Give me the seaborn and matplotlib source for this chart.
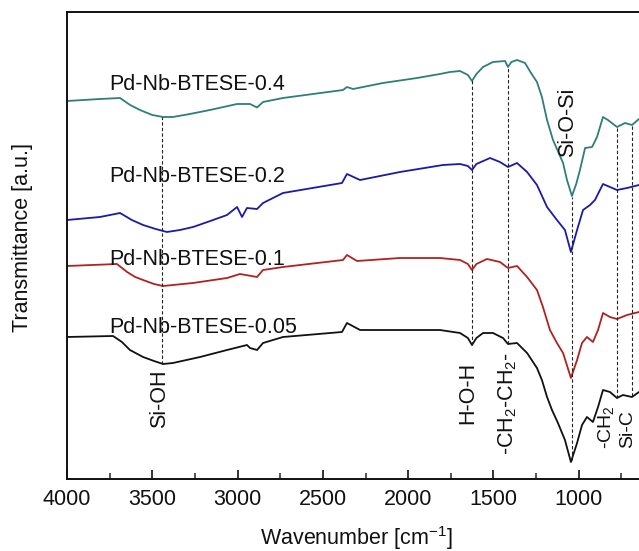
import matplotlib
matplotlib.use("Agg")
import matplotlib.pyplot as plt
import numpy as np
import pandas as pd
import seaborn as sns
from matplotlib.ticker import MultipleLocator

# ---------------- data ----------------
wn_04 = [4000, 3807, 3689, 3630, 3572, 3500, 3437, 3379, 3280, 3162, 3003, 2927, 2886, 2851, 2734, 2382, 2359, 2323,
         2148, 1948, 1814, 1755, 1696, 1650, 1626, 1600, 1561, 1503, 1432, 1415, 1395, 1362, 1315, 1280, 1245, 1216, 1186,
         1151, 1092, 1069, 1040, 1015, 993, 963, 922, 893, 858, 829, 776, 729, 688, 647]
t_04 = [378, 380, 381, 374, 369, 364, 362, 362, 365, 369, 375, 375, 371.5, 377, 381, 389, 392, 390,
        396, 401, 405, 407, 408, 404, 398, 405, 412, 417, 418, 412, 417, 419, 416, 406, 397, 382, 359,
        339, 316, 299, 283, 295, 309, 331, 332, 342, 362, 359, 352, 356, 354, 360]

wn_02 = [4000, 3807, 3689, 3620, 3554, 3480, 3414, 3338, 3261, 3160, 3062, 3003, 2974, 2945, 2886, 2851, 2734, 2388, 2359,
         2282, 2048, 1796, 1696, 1650, 1626, 1600, 1520, 1462, 1415, 1362, 1303, 1245, 1186, 1128, 1081, 1046, 1010,
         975, 934, 905, 858, 817, 776, 717, 647]
t_02 = [259, 262, 266, 259, 254, 250, 247, 249, 252, 258, 264, 272, 262, 271, 270, 276, 286, 296, 305,
        299, 307, 314, 315, 313, 309, 315, 321, 317, 312, 316, 307, 294, 272, 259, 249, 227, 249,
        269, 274, 279, 295, 292, 289, 291, 294]

wn_01 = [4000, 3707, 3648, 3600, 3554, 3490, 3437, 3261, 3062, 2986, 2886, 2851, 2734, 2382, 2359, 2300, 2048, 1814,
         1696, 1650, 1626, 1600, 1538, 1462, 1415, 1362, 1303, 1245, 1210, 1169, 1128, 1092, 1046, 1010, 981, 952,
         917, 887, 858, 817, 776, 717, 647]
t_01 = [213, 215, 207, 202, 199, 195, 193, 196, 201, 205, 202, 209, 212, 219, 224, 218, 221, 221,
        219, 215, 209, 215, 220, 217, 211, 213, 202, 189, 172, 149, 136, 126, 101, 119, 136, 142,
        137, 149, 166, 162, 160, 164, 167]

wn_005 = [4000, 3730, 3678, 3631, 3554, 3490, 3437, 3379, 3220, 3062, 2945, 2927, 2886, 2851, 2734, 2388, 2359,
          2282, 2048, 1814, 1696, 1650, 1626, 1600, 1561, 1503, 1444, 1415, 1362, 1303, 1245, 1216, 1186, 1157, 1122,
          1081, 1046, 1010, 981, 952, 917, 887, 858, 817, 776, 741, 688, 647]
t_005 = [142, 143, 137, 129, 122, 118, 115, 116, 122, 129, 134, 131, 129, 136, 142, 147, 156,
         149, 149, 149, 146, 141, 134, 141, 146, 146, 141, 135, 136, 126, 111, 99, 82, 69, 56,
         39, 17, 36, 54, 62, 57, 72, 89, 87, 81, 84, 82, 87]

samples = ["Pd-Nb-BTESE-0.4", "Pd-Nb-BTESE-0.2", "Pd-Nb-BTESE-0.1", "Pd-Nb-BTESE-0.05"]
colors = ["#2f7e7b", "#1a1aa8", "#b02222", "#111111"]
label_y = [389, 297, 214, 146]

# assignment lines
peak_wn = [3443, 1626, 1415, 1040, 776, 688]
peak_top = [362, 399, 412, 282, 352, 354]
peak_bottom = [115, 134, 135, 19, 81, 83]
peak_names = ["Si-OH", "H-O-H", "-CH$_2$-CH$_2$-", "Si-O-Si", "-CH$_2$", "Si-C"]
peak_label_x = [3455, 1649, 1415, 1063, 842, 711]
peak_label_y = [109, 117, 127, 322, 74, 69]
peak_label_va = ["top", "top", "top", "bottom", "top", "top"]
peak_label_fs = [15.5, 15.5, 15.5, 15.5, 14, 14]

xticks = [4000, 3500, 3000, 2500, 2000, 1500, 1000]

# ---------------- build table ----------------
frames = []
for name, w, t in zip(samples, [wn_04, wn_02, wn_01, wn_005], [t_04, t_02, t_01, t_005]):
    frames.append(pd.DataFrame({"wn": w, "T": t, "sample": name}))
df = pd.concat(frames, ignore_index=True)

# ---------------- style ----------------
sns.set_theme(style="ticks")
plt.rcParams["font.family"] = ["Liberation Sans", "DejaVu Sans"]
plt.rcParams["mathtext.fontset"] = "custom"
plt.rcParams["mathtext.rm"] = "Liberation Sans"
plt.rcParams["mathtext.it"] = "Liberation Sans:italic"
plt.rcParams["mathtext.bf"] = "Liberation Sans:bold"
plt.rcParams["mathtext.default"] = "regular"

W, H = 639, 551
fig = plt.figure(figsize=(W / 100, H / 100), dpi=100)
ax = fig.add_axes([67 / W, 1 - 479 / H, 580 / W, 467 / H])

sns.lineplot(data=df, x="wn", y="T", hue="sample", palette=dict(zip(samples, colors)),
             estimator=None, sort=True, linewidth=1.3, legend=False, ax=ax)

ax.vlines(peak_wn, peak_bottom, peak_top, colors="#222222", linewidth=0.8,
          linestyles=(0, (3, 2)))

fs = 15.5
for name, y, c in zip(samples, label_y, colors):
    ax.text(3754, y, name, fontsize=fs, ha="left", va="baseline", color="#111111")

for name, x, y, va, f in zip(peak_names, peak_label_x, peak_label_y, peak_label_va, peak_label_fs):
    ax.text(x, y, name, fontsize=f, rotation=90, ha="center", va=va, color="#111111")

ax.set_xlim(4000, 600)
ax.set_ylim(0, 467)
ax.set_xticks(xticks)
ax.xaxis.set_minor_locator(MultipleLocator(250))
ax.set_yticks([])
ax.tick_params(axis="x", which="major", direction="in", length=6.5, width=1.2,
               labelsize=fs, pad=7, colors="#111111")
ax.tick_params(axis="x", which="minor", direction="in", length=4, width=1.1)
for s in ["left", "bottom", "top", "right"]:
    ax.spines[s].set_linewidth(1.4)
    ax.spines[s].set_color("#111111")
ax.set_xlabel("")
ax.set_ylabel("")

fig.text(356 / W, 1 - 538 / H, "Wavenumber [cm$^{-1}$]", fontsize=fs, ha="center", va="center",
         color="#111111")
fig.text(23 / W, 1 - 238 / H, "Transmittance [a.u.]", fontsize=fs, rotation=90, ha="center",
         va="center", color="#111111")

fig.savefig("out.png", dpi=100)
